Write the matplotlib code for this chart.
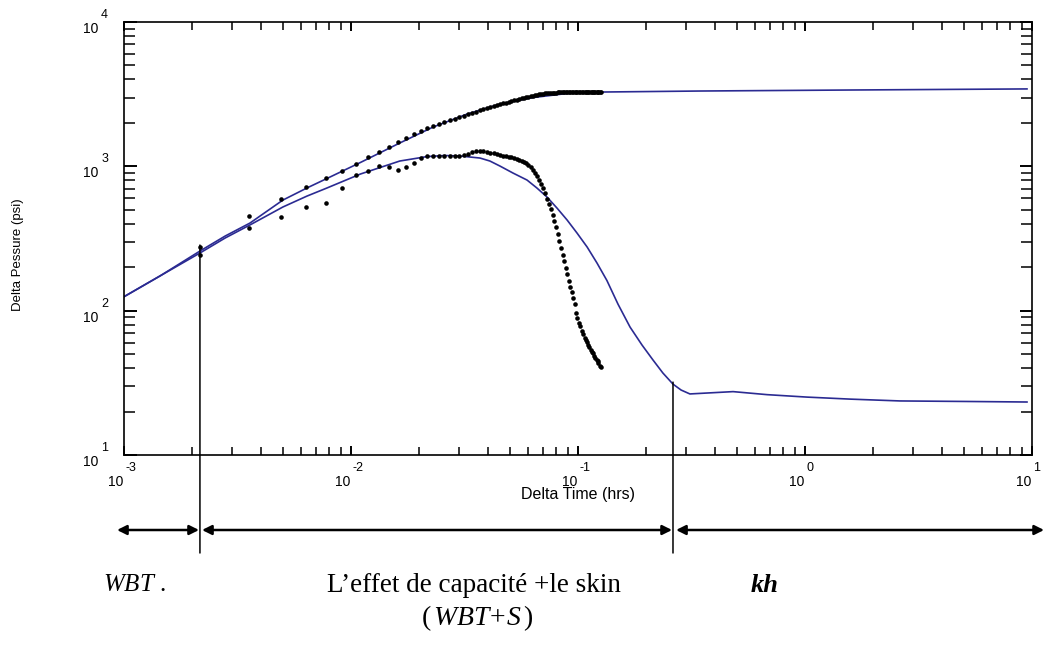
import matplotlib
matplotlib.use("Agg")
import matplotlib.pyplot as plt
import matplotlib.transforms as mtransforms

plt.rcParams['font.family'] = ['Liberation Sans', 'DejaVu Sans']
plt.rcParams['mathtext.fontset'] = 'custom'
plt.rcParams['mathtext.rm'] = 'Liberation Serif'
plt.rcParams['mathtext.it'] = 'Liberation Serif:italic'
plt.rcParams['mathtext.bf'] = 'Liberation Serif:bold'

# mesures (temps en heures, pressions en psi)
t_data = [0.00216, 0.00355, 0.00494, 0.00633, 0.00772, 0.00911, 0.0105, 0.0119, 0.0133, 0.0147,
          0.0161, 0.0175, 0.0189, 0.0203, 0.0216, 0.0230, 0.0244, 0.0258, 0.0272, 0.0286,
          0.0300, 0.0314, 0.0328, 0.0342, 0.0355, 0.0369, 0.0383, 0.0397, 0.0411, 0.0425,
          0.0439, 0.0453, 0.0467, 0.0480, 0.0494, 0.0508, 0.0522, 0.0536, 0.0550, 0.0564,
          0.0578, 0.0592, 0.0605, 0.0619, 0.0633, 0.0647, 0.0661, 0.0675, 0.0689, 0.0703,
          0.0717, 0.0730, 0.0744, 0.0758, 0.0772, 0.0786, 0.0800, 0.0814, 0.0828, 0.0842,
          0.0855, 0.0869, 0.0883, 0.0897, 0.0911, 0.0925, 0.0939, 0.0953, 0.0967, 0.0980,
          0.0994, 0.101, 0.102, 0.104, 0.105, 0.107, 0.108, 0.109, 0.111, 0.112,
          0.114, 0.115, 0.116, 0.118, 0.119, 0.121, 0.122, 0.123, 0.125, 0.126]

dp_data = [276, 374, 594, 719, 830, 928, 1038, 1161, 1257, 1361,
           1475, 1571, 1675, 1757, 1844, 1903, 1963, 2028, 2094, 2144,
           2196, 2250, 2305, 2344, 2399, 2455, 2495, 2535, 2576, 2618,
           2661, 2704, 2748, 2770, 2792, 2838, 2884, 2904, 2930, 2972,
           2999, 3020, 3048, 3069, 3097, 3119, 3130, 3148, 3170, 3175,
           3199, 3205, 3221, 3225, 3230, 3240, 3245, 3250, 3255, 3260,
           3262, 3265, 3268, 3270, 3272, 3274, 3275, 3277, 3278, 3280,
           3281, 3282, 3283, 3284, 3285, 3286, 3287, 3288, 3289, 3290,
           3290, 3291, 3292, 3292, 3293, 3293, 3294, 3294, 3295, 3295]

deriv_data = [243, 453, 446, 523, 557, 708, 871, 928, 1005, 989,
              944, 989, 1054, 1142, 1180, 1180, 1185, 1180, 1182, 1178,
              1185, 1199, 1227, 1257, 1277, 1280, 1275, 1257, 1247, 1237,
              1217, 1199, 1189, 1180, 1170, 1161, 1142, 1124, 1106, 1089,
              1072, 1054, 1021, 989, 944, 899, 857, 804, 755, 708,
              653, 594, 548, 506, 460, 418, 380, 340, 304, 272,
              243, 221, 198, 180, 160, 146, 135, 122, 111, 97.1,
              88.9, 82.1, 78.3, 72.3, 69.5, 65.2, 63.1, 61.1, 57.8, 56.0,
              53.3, 52.1, 50.9, 48.5, 47.3, 45.5, 44.8, 43.4, 41.7, 40.7]

# modele (courbes bleues)
t_model_p = [0.001, 0.00144, 0.00216, 0.00279, 0.00359, 0.00501, 0.00639, 0.00783, 0.0110,
             0.0164, 0.0230, 0.0325, 0.0453, 0.0634, 0.0895, 0.125, 0.344, 1.58, 9.5]
dp_model = [125, 174, 259, 329, 405, 584, 708, 824, 1064,
            1452, 1873, 2305, 2704, 2998, 3199, 3273, 3327, 3381, 3440]

t_model_d = [0.001, 0.00144, 0.00216, 0.00279, 0.00359, 0.00501, 0.00639, 0.00783, 0.0110,
             0.0164, 0.0216, 0.0259, 0.0302, 0.0370, 0.0409, 0.0453, 0.0517, 0.0596,
             0.0659, 0.0730, 0.0808, 0.0895, 0.0990, 0.1097, 0.1212, 0.134, 0.150,
             0.1695, 0.1914, 0.214, 0.2365, 0.262, 0.2845, 0.311, 0.482, 0.681,
             1.02, 1.58, 2.62, 5.18, 9.5]
deriv_model = [125, 174, 251, 319, 393, 523, 622, 708, 885,
               1089, 1169, 1189, 1180, 1142, 1089, 1005, 899, 804,
               708, 613, 514, 425, 345, 276, 214, 162, 111,
               77, 57.8, 45.5, 37.0, 31.0, 28.2, 26.5, 27.5, 26.2,
               25.2, 24.4, 23.7, 23.5, 23.3]

# limites des regimes d'ecoulement
t_limits = [0.00216, 0.262]
p_limits_top = [285, 32]

fig = plt.figure(figsize=(10.43, 6.52), dpi=100)
ax = fig.add_axes([0.1189, 0.3021, 0.8706, 0.6641])

blue = '#2b2b92'
ax.plot(t_model_p, dp_model, color=blue, lw=1.2)
ax.plot(t_model_d, deriv_model, color=blue, lw=1.2)
ax.plot(t_data, dp_data, 'o', color='black', ms=3.3, mec='none')
ax.plot(t_data, deriv_data, 'o', color='black', ms=3.3, mec='none')

ax.set_xscale('log')
ax.set_yscale('log')
ax.set_xlim(1e-3, 1e1)
ax.set_ylim(1e1, 1e4)

for s in ax.spines.values():
    s.set_linewidth(1.2)
ax.tick_params(which='both', direction='in', top=True, right=True,
               labelbottom=False, labelleft=False, color='black')
ax.tick_params(axis='x', which='major', length=6.5, width=1.4)
ax.tick_params(axis='x', which='minor', length=6, width=1.1)
ax.tick_params(axis='y', which='major', length=9, width=1.4)
ax.tick_params(axis='y', which='minor', length=8, width=1.1)

# etiquettes des graduations "10" + exposant
xt = mtransforms.blended_transform_factory(ax.transData, fig.transFigure)
for k in range(-3, 2):
    ax.text(10.0 ** k, 0.2607,
            '10', transform=mtransforms.offset_copy(xt, fig=fig, x=-1, units='dots'),
            ha='right', va='center', fontsize=10)
    ax.text(10.0 ** k, 0.2822, str(k),
            transform=mtransforms.offset_copy(xt, fig=fig, x=1, units='dots'),
            ha='left', va='center', fontsize=9)

yt = mtransforms.blended_transform_factory(fig.transFigure, ax.transData)
for k in range(1, 5):
    ax.text(0.0945, 10.0 ** k, '10',
            transform=mtransforms.offset_copy(yt, fig=fig, y=-7, units='dots'),
            ha='right', va='center', fontsize=10)
    ax.text(0.0970, 10.0 ** k, str(k),
            transform=mtransforms.offset_copy(yt, fig=fig, y=7, units='dots'),
            ha='left', va='center', fontsize=9)

fig.text(0.5542, 0.2415, 'Delta Time (hrs)', ha='center', va='center', fontsize=11.5)
fig.text(0.0173, 0.610, 'Delta Pessure (psi)', ha='center', va='center',
         rotation=90, fontsize=9.5)

# lignes verticales et fleches des regimes
y_line_bottom = 1 - 553 / 652
for t, p in zip(t_limits, p_limits_top):
    ax.annotate('', xy=(t, p), xycoords='data', xytext=(t, y_line_bottom), textcoords=xt,
                arrowprops=dict(arrowstyle='-', lw=1.1, color='black',
                                shrinkA=0, shrinkB=0), annotation_clip=False)

y_arrow = 1 - 530 / 652
arrow_spans = [(10 ** (-3 - 7 / 227), 10 ** (-3 + 75 / 227)),
               (10 ** (-3 + 78 / 227), 10 ** (-3 + 548 / 227)),
               (10 ** (-3 + 552 / 227), 10 ** (1 + 12 / 227))]
for a, b in arrow_spans:
    ax.annotate('', xy=(b, y_arrow), xycoords=xt, xytext=(a, y_arrow), textcoords=xt,
                arrowprops=dict(arrowstyle='<|-|>', lw=1.8, color='black',
                                mutation_scale=14, shrinkA=0, shrinkB=0),
                annotation_clip=False)

serif = 'Liberation Serif'
fig.text(0.1285, 1 - 585 / 652, r'$WBT$ .', ha='center', va='center',
         fontsize=18, family=serif)
fig.text(0.4545, 1 - 585 / 652, 'L\u2019effet de capacit\u00e9 +le skin', ha='center',
         va='center', fontsize=19.5, family=serif)
fig.text(0.7335, 1 - 586 / 652, 'kh', ha='center', va='center', fontsize=19,
         family=serif, style='italic', weight='bold')
fig.text(0.4573, 1 - 618 / 652, r'$(\,WBT\!+\!S\,)$', ha='center', va='center',
         fontsize=20)

fig.savefig('out.png', dpi=100)
